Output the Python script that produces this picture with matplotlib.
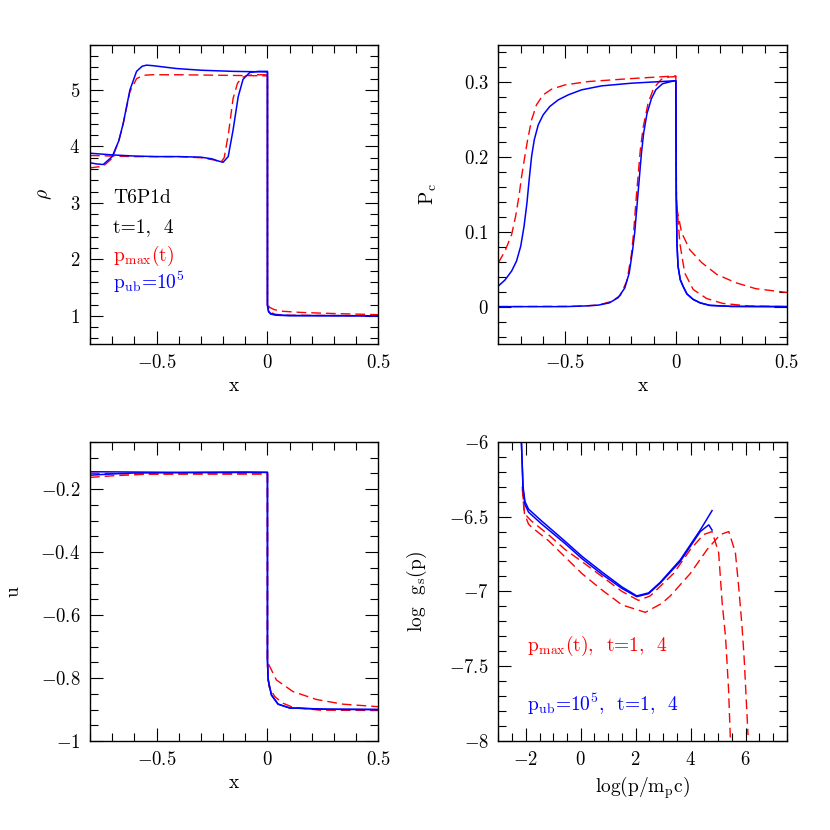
import matplotlib
matplotlib.use("Agg")
import matplotlib.pyplot as plt
from matplotlib.ticker import MultipleLocator, FuncFormatter

plt.rcParams['font.family'] = ['cmr10', 'DejaVu Serif']
plt.rcParams['mathtext.fontset'] = 'cm'
plt.rcParams['axes.formatter.use_mathtext'] = True

RED = '#ff0000'
BLUE = '#0000ff'

# ---- panel 1: density rho(x) ----
rho_b4_x = [-0.80, -0.77, -0.74, -0.70, -0.67, -0.65, -0.62, -0.59, -0.565, -0.545, -0.515, -0.41, -0.30, -0.155, 0.0,
            0.0, 0.005, 0.015, 0.04, 0.10, 0.50]
rho_b4 = [3.71, 3.69, 3.68, 3.82, 4.10, 4.41, 5.00, 5.33, 5.42, 5.44, 5.43, 5.38, 5.35, 5.33, 5.32,
          1.20, 1.08, 1.04, 1.015, 1.005, 1.00]
rho_r4_x = [-0.80, -0.74, -0.70, -0.67, -0.65, -0.62, -0.59, -0.56, -0.52, -0.40, -0.20, 0.0,
            0.0, 0.01, 0.03, 0.07, 0.15, 0.30, 0.50]
rho_r4 = [3.62, 3.65, 3.79, 4.10, 4.41, 4.97, 5.20, 5.26, 5.27, 5.27, 5.26, 5.25,
          1.20, 1.15, 1.11, 1.08, 1.06, 1.04, 1.02]
rho_b1_x = [-0.80, -0.70, -0.60, -0.50, -0.40, -0.30, -0.25, -0.22, -0.20, -0.177, -0.155, -0.132, -0.11, -0.08,
            -0.04, 0.0, 0.0, 0.005, 0.015, 0.04, 0.10, 0.50]
rho_b1 = [3.88, 3.85, 3.83, 3.82, 3.82, 3.81, 3.78, 3.74, 3.72, 3.82, 4.29, 4.88, 5.19, 5.31,
          5.33, 5.33, 1.18, 1.07, 1.03, 1.01, 1.003, 1.00]
rho_r1_x = [-0.80, -0.60, -0.40, -0.30, -0.24, -0.21, -0.195, -0.175, -0.155, -0.135, -0.115, -0.09, -0.05, 0.0,
            0.0, 0.01, 0.03, 0.08, 0.50]
rho_r1 = [3.84, 3.82, 3.82, 3.80, 3.76, 3.72, 3.80, 4.25, 4.85, 5.12, 5.22, 5.26, 5.27, 5.27,
          1.18, 1.08, 1.03, 1.01, 1.00]

# ---- panel 2: cosmic-ray pressure Pc(x) ----
pc_b4_x = [-0.800, -0.770, -0.740, -0.718, -0.699, -0.684, -0.671, -0.661, -0.650, -0.638, -0.620, -0.598,
           -0.568, -0.530, -0.485, -0.425, -0.335, -0.200, 0.0,
           0.0, 0.002, 0.005, 0.01, 0.02, 0.033, 0.05, 0.078, 0.11, 0.153, 0.25, 0.50]
pc_b4 = [0.0276, 0.0356, 0.0476, 0.0609, 0.0809, 0.1076, 0.1387, 0.1698, 0.2009, 0.2231, 0.2431, 0.2564,
         0.2676, 0.2764, 0.2831, 0.2898, 0.2951, 0.2987, 0.302,
         0.302, 0.15, 0.085, 0.054, 0.036, 0.027, 0.017, 0.0097, 0.005, 0.0017, 0.0003, 0.0]
pc_r4_x = [-0.800, -0.770, -0.740, -0.722, -0.707, -0.695, -0.683, -0.668, -0.650, -0.628, -0.598, -0.560,
           -0.500, -0.395, -0.200, 0.0,
           0.0, 0.003, 0.026, 0.063, 0.116, 0.185, 0.27, 0.36, 0.50]
pc_r4 = [0.0587, 0.0742, 0.0964, 0.1209, 0.1476, 0.1742, 0.1964, 0.2231, 0.2498, 0.2698, 0.2831, 0.2907,
         0.2964, 0.3009, 0.3049, 0.3084,
         0.3084, 0.134, 0.099, 0.076, 0.059, 0.043, 0.032, 0.024, 0.019]
pc_b1_x = [-0.80, -0.50, -0.40, -0.35, -0.30, -0.26, -0.23, -0.21, -0.195, -0.185, -0.175, -0.165, -0.155,
           -0.145, -0.13, -0.11, -0.09, -0.06, -0.02, 0.0,
           0.0, 0.002, 0.005, 0.01, 0.02, 0.033, 0.05, 0.078, 0.11, 0.153, 0.25, 0.50]
pc_b1 = [0.0, 0.0, 0.001, 0.002, 0.005, 0.012, 0.025, 0.045, 0.075, 0.10, 0.135, 0.17, 0.205,
         0.232, 0.258, 0.278, 0.29, 0.298, 0.301, 0.302,
         0.302, 0.15, 0.085, 0.054, 0.036, 0.027, 0.017, 0.0097, 0.005, 0.0017, 0.0003, 0.0]
pc_r1_x = [-0.80, -0.45, -0.35, -0.29, -0.25, -0.22, -0.20, -0.19, -0.18, -0.17, -0.16, -0.147, -0.125, -0.10,
           -0.065, -0.03, 0.0, 0.0, 0.003, 0.018, 0.04, 0.078, 0.138, 0.21, 0.33, 0.50]
pc_r1 = [0.0, 0.0005, 0.002, 0.007, 0.015, 0.035, 0.07, 0.10, 0.14, 0.175, 0.21, 0.24, 0.272, 0.292,
         0.304, 0.307, 0.3076, 0.3076, 0.143, 0.085, 0.045, 0.023, 0.011, 0.0044, 0.0008, 0.0]

# ---- panel 3: velocity u(x) ----
u_b1_x = [-0.80, -0.40, -0.10, 0.0, 0.0, 0.003, 0.018, 0.048, 0.10, 0.266, 0.50]
u_b1 = [-0.145, -0.147, -0.146, -0.147, -0.743, -0.806, -0.854, -0.883, -0.895, -0.899, -0.90]
u_b4_x = [-0.80, -0.70, -0.60, -0.40, 0.0, 0.0, 0.003, 0.018, 0.048, 0.10, 0.266, 0.50]
u_b4 = [-0.156, -0.152, -0.149, -0.148, -0.147, -0.743, -0.806, -0.854, -0.883, -0.895, -0.899, -0.90]
u_r4_x = [-0.80, -0.70, -0.55, -0.30, 0.0, 0.0, 0.003, 0.04, 0.115, 0.22, 0.34, 0.50]
u_r4 = [-0.163, -0.158, -0.153, -0.152, -0.152, -0.74, -0.753, -0.806, -0.843, -0.868, -0.883, -0.891]
u_r1_x = [-0.80, -0.60, -0.30, 0.0, 0.0, 0.007, 0.033, 0.07, 0.115, 0.236, 0.50]
u_r1 = [-0.150, -0.152, -0.152, -0.152, -0.76, -0.828, -0.859, -0.880, -0.893, -0.902, -0.903]

# ---- panel 4: log g_s(p) at the shock ----
g_b4_x = [-2.16, -2.10, -2.03, -1.90, -1.42, -0.57, 0.04, 0.77, 1.50, 2.04, 2.47, 2.89, 3.62, 4.35, 4.78]
g_b4 = [-6.00, -6.30, -6.40, -6.45, -6.53, -6.665, -6.765, -6.87, -6.97, -7.03, -7.01, -6.94, -6.79, -6.59, -6.46]
g_b1_x = [-2.16, -2.10, -2.03, -1.90, -1.42, -0.57, 0.04, 0.77, 1.50, 2.04, 2.47, 2.89, 3.62, 4.35, 4.66, 4.78]
g_b1 = [-6.00, -6.32, -6.42, -6.47, -6.55, -6.68, -6.78, -6.885, -6.98, -7.035, -7.015, -6.945, -6.80, -6.60,
        -6.555, -6.59]
g_r1_x = [-2.13, -2.07, -1.95, -1.79, -1.18, -0.57, 0.04, 0.77, 1.50, 2.10, 2.53, 3.38, 3.99, 4.47, 4.78, 5.02,
          5.15, 5.27, 5.38, 5.45]
g_r1 = [-6.30, -6.45, -6.50, -6.53, -6.62, -6.72, -6.80, -6.90, -7.00, -7.06, -7.03, -6.88, -6.72, -6.62, -6.60,
        -6.74, -7.08, -7.30, -7.65, -8.00]
g_r4_x = [-2.12, -2.05, -1.90, -1.79, -1.18, -0.57, 0.04, 0.77, 1.50, 2.35, 2.95, 3.26, 3.99, 4.60, 5.08, 5.39,
          5.63, 5.75, 5.87, 5.95, 6.09]
g_r4 = [-6.32, -6.48, -6.55, -6.57, -6.66, -6.77, -6.88, -6.99, -7.09, -7.14, -7.08, -7.03, -6.88, -6.72, -6.62,
        -6.60, -6.74, -6.97, -7.23, -7.45, -7.96]

fig = plt.figure(figsize=(8.3, 8.3), dpi=100)
W, H = 0.3475, 0.3605
ax1 = fig.add_axes([0.1084, 0.5855, W, H])
ax2 = fig.add_axes([0.6004, 0.5855, W, H])
ax3 = fig.add_axes([0.1084, 0.1072, W, H])
ax4 = fig.add_axes([0.6004, 0.1072, W, H])

fmt = FuncFormatter(lambda v, p: '$%g$' % round(v, 6) if abs(v) > 1e-9 else '$0$')
dash = (0, (7, 3.6))


def style(ax, xmaj, xmin, ymaj, ymin):
    ax.xaxis.set_major_locator(MultipleLocator(xmaj))
    ax.xaxis.set_minor_locator(MultipleLocator(xmin))
    ax.yaxis.set_major_locator(MultipleLocator(ymaj))
    ax.yaxis.set_minor_locator(MultipleLocator(ymin))
    ax.xaxis.set_major_formatter(fmt)
    ax.yaxis.set_major_formatter(fmt)
    ax.tick_params(which='both', direction='in', top=True, right=True, labelsize=13.5, width=0.8)
    ax.tick_params(which='major', length=9.4, pad=7)
    ax.tick_params(which='minor', length=5.6)
    for s in ax.spines.values():
        s.set_linewidth(1.0)


ax1.plot(rho_r4_x, rho_r4, color=RED, lw=1.0, ls=dash)
ax1.plot(rho_r1_x, rho_r1, color=RED, lw=1.0, ls=dash)
ax1.plot(rho_b4_x, rho_b4, color=BLUE, lw=1.1)
ax1.plot(rho_b1_x, rho_b1, color=BLUE, lw=1.1)
ax1.set_xlim(-0.8, 0.5)
ax1.set_ylim(0.5, 5.8)
style(ax1, 0.5, 0.1, 1, 0.2)
ax1.set_xlabel('x', fontsize=14)
ax1.set_ylabel(r'$\rho$', fontsize=14)
ax1.yaxis.set_label_coords(-0.125, 0.5)
ax1.text(-0.696, 2.99, 'T6P1d', fontsize=14)
ax1.text(-0.696, 2.49, 't=1,  4', fontsize=14)
ax1.text(-0.696, 1.97, r'p$_{\rm max}$(t)', fontsize=14, color=RED)
ax1.text(-0.696, 1.47, r'p$_{\rm ub}$=10$^5$', fontsize=14, color=BLUE)

ax2.plot(pc_r4_x, pc_r4, color=RED, lw=1.0, ls=dash)
ax2.plot(pc_r1_x, pc_r1, color=RED, lw=1.0, ls=dash)
ax2.plot(pc_b4_x, pc_b4, color=BLUE, lw=1.1)
ax2.plot(pc_b1_x, pc_b1, color=BLUE, lw=1.1)
ax2.set_xlim(-0.8, 0.5)
ax2.set_ylim(-0.05, 0.35)
style(ax2, 0.5, 0.1, 0.1, 0.02)
ax2.set_xlabel('x', fontsize=14)
ax2.set_ylabel(r'P$_{\rm c}$', fontsize=14)
ax2.yaxis.set_label_coords(-0.205, 0.5)

ax3.plot(u_r4_x, u_r4, color=RED, lw=1.0, ls=dash)
ax3.plot(u_r1_x, u_r1, color=RED, lw=1.0, ls=dash)
ax3.plot(u_b4_x, u_b4, color=BLUE, lw=1.1)
ax3.plot(u_b1_x, u_b1, color=BLUE, lw=1.1)
ax3.set_xlim(-0.8, 0.5)
ax3.set_ylim(-1.0, -0.05)
style(ax3, 0.5, 0.1, 0.2, 0.05)
ax3.set_xlabel('x', fontsize=14)
ax3.set_ylabel('u', fontsize=14)
ax3.yaxis.set_label_coords(-0.235, 0.5)

ax4.plot(g_r4_x, g_r4, color=RED, lw=1.0, ls=dash)
ax4.plot(g_r1_x, g_r1, color=RED, lw=1.0, ls=dash)
ax4.plot(g_b4_x, g_b4, color=BLUE, lw=1.1)
ax4.plot(g_b1_x, g_b1, color=BLUE, lw=1.1)
ax4.set_xlim(-3, 7.5)
ax4.set_ylim(-8, -6)
style(ax4, 2, 0.5, 0.5, 0.1)
ax4.set_xlabel(r'log(p/m$_{\rm p}$c)', fontsize=14)
ax4.set_ylabel(r'log  g$_{\rm s}$(p)', fontsize=14)
ax4.yaxis.set_label_coords(-0.24, 0.5)
ax4.text(-1.96, -7.40, r'p$_{\rm max}$(t),  t=1,  4', fontsize=14, color=RED)
ax4.text(-1.96, -7.80, r'p$_{\rm ub}$=10$^5$,  t=1,  4', fontsize=14, color=BLUE)

fig.savefig('out.png', dpi=100)
